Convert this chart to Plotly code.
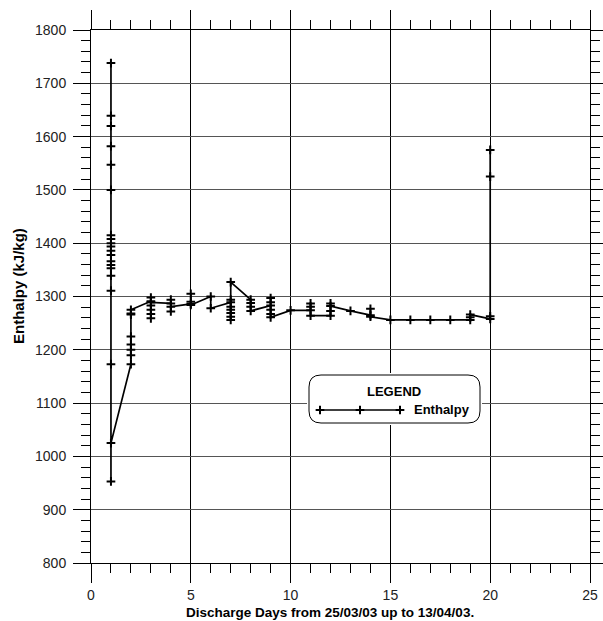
import plotly.graph_objects as go

# Discharge day number for each enthalpy reading (chronological order)
day = (
    [1] * 20
    + [2] * 8
    + [3] * 7
    + [4] * 4
    + [5] * 4
    + [6] * 2
    + [7] * 8
    + [8] * 4
    + [9] * 6
    + [10]
    + [11] * 4
    + [12] * 4
    + [13]
    + [14] * 3
    + [15, 16, 17, 18]
    + [19] * 3
    + [20] * 4
)

# Enthalpy readings, kJ/kg
enthalpy = (
    [1738, 1639, 1620, 1582, 1547, 1500, 1415, 1408, 1400, 1394,
     1386, 1378, 1366, 1359, 1353, 1339, 1311, 1173, 953, 1025]          # day 1
    + [1173, 1190, 1200, 1210, 1225, 1266, 1268, 1275]                  # day 2
    + [1291, 1298, 1259, 1267, 1275, 1283, 1289]                        # day 3
    + [1287, 1294, 1272, 1281]                                          # day 4
    + [1286, 1305, 1290, 1284]                                          # day 5
    + [1300, 1278]                                                      # day 6
    + [1289, 1294, 1281, 1275, 1269, 1262, 1256, 1327]                  # day 7
    + [1294, 1288, 1281, 1273]                                          # day 8
    + [1283, 1297, 1289, 1275, 1267, 1261]                              # day 9
    + [1274]                                                            # day 10
    + [1274, 1287, 1281, 1264]                                          # day 11
    + [1264, 1273, 1287, 1282]                                          # day 12
    + [1273]                                                            # day 13
    + [1265, 1277, 1262]                                                # day 14
    + [1256, 1256, 1256, 1256]                                          # days 15-18
    + [1256, 1261, 1266]                                                # day 19
    + [1258, 1263, 1525, 1575]                                          # day 20
)

series_name = "Enthalpy"
x_title = "Discharge Days from 25/03/03 up to 13/04/03."
y_title = "Enthalpy (kJ/kg)"

FONT = "Liberation Sans, Arial, sans-serif"
W, H = 603, 621
M_L, M_R, M_T, M_B = 91, 13, 30, 58
PLOT_W = W - M_L - M_R
PLOT_H = H - M_T - M_B


def px_x(px):
    return (px - M_L) / PLOT_W


def px_y(py):
    return (H - M_B - py) / PLOT_H


cross = dict(symbol="cross-thin", size=6.2, line=dict(color="black", width=2))

fig = go.Figure()
fig.add_trace(go.Scatter(
    x=day, y=enthalpy, mode="lines+markers", name=series_name,
    line=dict(color="black", width=1.7), marker=cross,
    showlegend=False, cliponaxis=False,
))

# Legend box: its own pixel-unit axes laid over the plot area
box_l, box_r, box_t, box_b = 309, 480, 375, 423
leg_x0, leg_x1, leg_y = 320, 400, 410
fig.add_trace(go.Scatter(
    x=[leg_x0, (leg_x0 + leg_x1) / 2, leg_x1], y=[leg_y] * 3,
    mode="lines+markers", line=dict(color="black", width=1.4), marker=cross,
    xaxis="x2", yaxis="y2", showlegend=False, hoverinfo="skip",
    cliponaxis=False,
))
r = 12
box_path = (
    f"M {box_l + r} {box_t} L {box_r - r} {box_t} Q {box_r} {box_t} {box_r} {box_t + r} "
    f"L {box_r} {box_b - r} Q {box_r} {box_b} {box_r - r} {box_b} "
    f"L {box_l + r} {box_b} Q {box_l} {box_b} {box_l} {box_b - r} "
    f"L {box_l} {box_t + r} Q {box_l} {box_t} {box_l + r} {box_t} Z"
)
fig.add_shape(type="path", path=box_path, xref="x2", yref="y2",
              line=dict(color="black", width=1), fillcolor="white", layer="between")
fig.add_annotation(x=(box_l + box_r) / 2 - 1, y=392, xref="x2", yref="y2",
                   text="<b>LEGEND</b>", showarrow=False,
                   font=dict(family=FONT, size=13, color="black"))
fig.add_annotation(x=412, y=leg_y, xref="x2", yref="y2", xanchor="left",
                   text=f"<b>{series_name}</b>", showarrow=False,
                   font=dict(family=FONT, size=13, color="black"))

# Axis titles
fig.add_annotation(x=px_x(330), y=px_y(612), xref="paper", yref="paper",
                   xanchor="center", yanchor="middle",
                   text=f"<b>{x_title}</b>", showarrow=False,
                   font=dict(family=FONT, size=13.5, color="black"))
fig.add_annotation(x=px_x(18), y=px_y(286), xref="paper", yref="paper",
                   xanchor="center", yanchor="middle",
                   text=f"<b>{y_title}</b>", showarrow=False, textangle=-90,
                   font=dict(family=FONT, size=15, color="black"))

axis_common = dict(
    ticks="outside", tickcolor="black", tickwidth=1,
    showline=True, linecolor="black", linewidth=1, mirror="allticks",
    showgrid=True, zeroline=False, automargin=False,
    tickfont=dict(family=FONT, size=14, color="#222"),
)

fig.update_layout(
    width=W, height=H,
    margin=dict(l=M_L, r=M_R, t=M_T, b=M_B, autoexpand=False),
    paper_bgcolor="white", plot_bgcolor="white",
    xaxis=dict(
        range=[0, 25], tick0=0, dtick=5, ticklen=19,
        gridcolor="black", gridwidth=1,
        minor=dict(dtick=1, tick0=0, ticklen=9, ticks="outside",
                   tickcolor="black", showgrid=False),
        **axis_common,
    ),
    yaxis=dict(
        range=[800, 1800], tick0=800, dtick=100, ticklen=17,
        ticklabelstandoff=4,
        gridcolor="#555", gridwidth=1,
        minor=dict(dtick=20, tick0=800, ticklen=9, ticks="outside",
                   tickcolor="black", showgrid=False),
        **axis_common,
    ),
    xaxis2=dict(
        domain=[px_x(box_l - 2), px_x(box_r + 2)],
        range=[box_l - 2, box_r + 2], visible=False, anchor="y2",
    ),
    yaxis2=dict(
        domain=[px_y(box_b + 2), px_y(box_t - 2)],
        range=[box_b + 2, box_t - 2], visible=False, anchor="x2",
    ),
)

fig.write_html("out.html")
